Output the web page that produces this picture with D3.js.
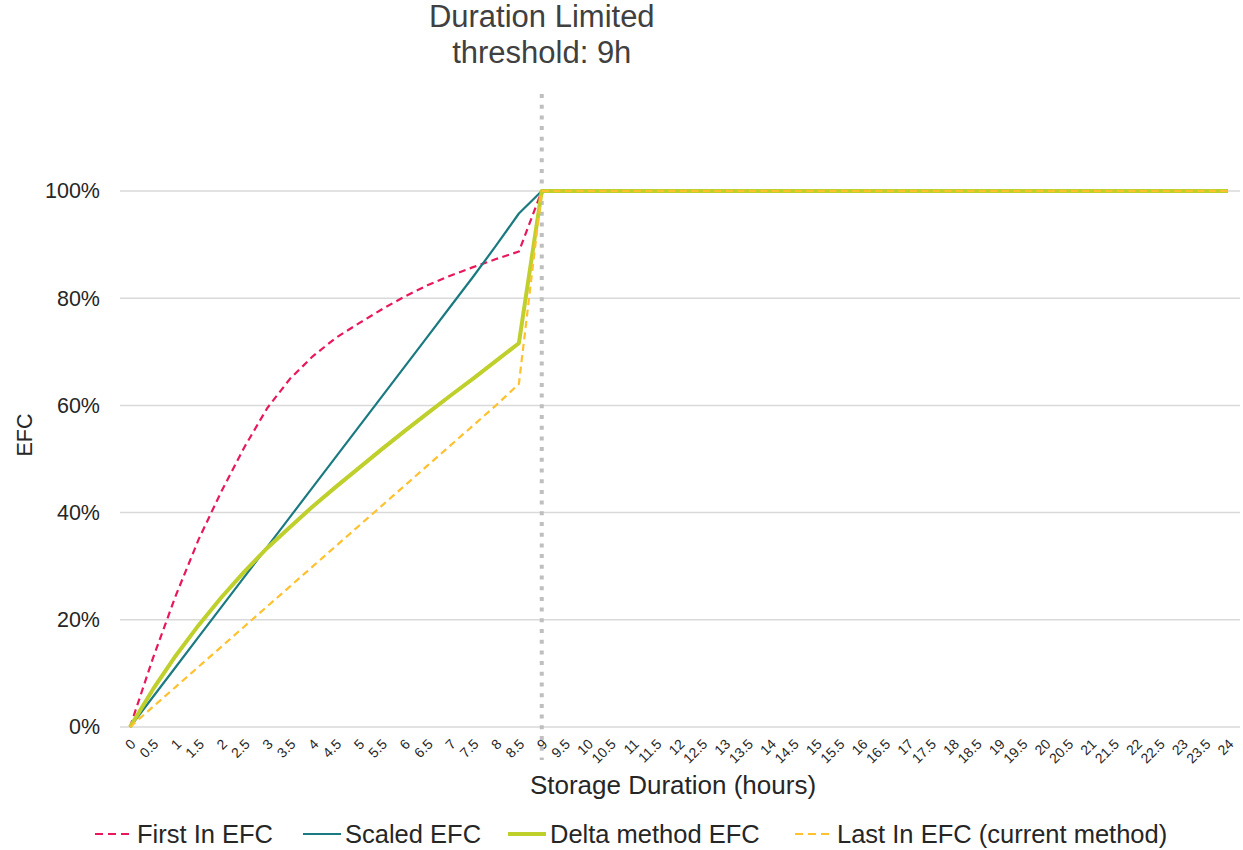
<!DOCTYPE html>
<meta charset="utf-8">
<head>
    <title>EFC vs Storage Duration</title>
    <meta charset="utf-8">
    <script type="text/javascript" src="https://d3js.org/d3.v7.min.js"></script>
    <style>
        body { margin: 0; background: #fff; }
        text { font-family: "Liberation Sans", Arial, sans-serif; }
    </style>
</head>
<body>
<script>

    // data (EFC in %)
    var durations = [0,0.5,1,1.5,2,2.5,3,3.5,4,4.5,5,5.5,6,6.5,7,7.5,8,8.5,9,9.5,10,10.5,11,11.5,12,12.5,
                     13,13.5,14,14.5,15,15.5,16,16.5,17,17.5,18,18.5,19,19.5,20,20.5,21,21.5,22,22.5,23,23.5,24];

    var firstIn = [0,12.8,24.5,35,44,52.2,59.5,65,69.2,72.6,75.3,77.9,80.3,82.4,84.2,85.8,87.3,88.7,
                   100,100,100,100,100,100,100,100,100,100,100,100,100,100,100,100,100,100,100,100,100,100,100,100,100,100,100,100,100,100,100];
    var scaled = [0,5.6,11.2,16.8,22.4,28,33.6,39.2,44.8,50.4,56,61.6,67.2,72.8,78.4,84,89.8,95.8,
                  100,100,100,100,100,100,100,100,100,100,100,100,100,100,100,100,100,100,100,100,100,100,100,100,100,100,100,100,100,100,100];
    var delta = [0,7,13.3,19,24.2,29,33.4,37.3,41.2,44.8,48.3,51.8,55.2,58.5,61.8,65,68.3,71.6,
                 100,100,100,100,100,100,100,100,100,100,100,100,100,100,100,100,100,100,100,100,100,100,100,100,100,100,100,100,100,100,100];
    var lastIn = [0,3.75,7.5,11.25,15,18.75,22.5,26.25,30,33.75,37.5,41.25,45,48.75,52.5,56.25,60,64,
                  100,100,100,100,100,100,100,100,100,100,100,100,100,100,100,100,100,100,100,100,100,100,100,100,100,100,100,100,100,100,100];

    var seriesNames = ["First In EFC", "Scaled EFC", "Delta method EFC", "Last In EFC (current method)"];
    var yTicks = [0, 20, 40, 60, 80, 100];
    var threshold = 9;

    var series = [
        {name: seriesNames[0], values: firstIn, color: "#E8185A", width: 2.2, dash: "7,4.5"},
        {name: seriesNames[1], values: scaled,  color: "#1A7A80", width: 2.2, dash: null},
        {name: seriesNames[2], values: delta,   color: "#BFD02C", width: 4,   dash: null},
        {name: seriesNames[3], values: lastIn,  color: "#FFC12E", width: 2.2, dash: "7,4.5"}
    ];

    var width = 1243, height = 850;

    var svg = d3.select('body').append('svg')
        .attr('width', width)
        .attr('height', height);

    var x = d3.scalePoint()
        .domain(durations)
        .range([130, 1228]);

    var y = d3.scaleLinear()
        .domain([0, 100])
        .range([727, 191]);

    // gridlines
    svg.append('g')
        .selectAll('line')
        .data(yTicks)
        .enter()
        .append('line')
        .attr('x1', 120)
        .attr('x2', 1240)
        .attr('y1', function(d){ return y(d); })
        .attr('y2', function(d){ return y(d); })
        .attr('stroke', '#d9d9d9')
        .attr('stroke-width', 1.5);

    // y axis labels
    var yAxis = svg.append('g')
        .attr('transform', 'translate(108,0)')
        .call(d3.axisLeft(y).tickValues(yTicks).tickSize(0).tickPadding(8)
              .tickFormat(function(d){ return d + '%'; }));
    yAxis.select('.domain').remove();
    yAxis.selectAll('text')
        .attr('font-size', 21.5)
        .attr('font-family', '"Liberation Sans", Arial, sans-serif')
        .attr('fill', '#262626');

    // x axis labels, rotated
    var xAxis = svg.append('g')
        .attr('transform', 'translate(0,727)')
        .call(d3.axisBottom(x).tickSize(0));
    xAxis.select('.domain').remove();
    xAxis.selectAll('text')
        .attr('font-size', 14)
        .attr('font-family', '"Liberation Sans", Arial, sans-serif')
        .attr('fill', '#262626')
        .attr('text-anchor', 'end')
        .attr('dy', null)
        .attr('y', 0)
        .attr('transform', 'translate(6,18) rotate(-45)');

    // threshold dotted line
    svg.append('line')
        .attr('x1', x(threshold))
        .attr('x2', x(threshold))
        .attr('y1', 94)
        .attr('y2', 760)
        .attr('stroke', '#bfbfbf')
        .attr('stroke-width', 4)
        .attr('stroke-dasharray', '4,6.7');

    // lines
    var line = d3.line()
        .x(function(d, i){ return x(durations[i]); })
        .y(function(d){ return y(d); });

    svg.append('g')
        .selectAll('path')
        .data(series)
        .enter()
        .append('path')
        .attr('fill', 'none')
        .attr('stroke', function(d){ return d.color; })
        .attr('stroke-width', function(d){ return d.width; })
        .attr('stroke-dasharray', function(d){ return d.dash; })
        .attr('stroke-linejoin', 'round')
        .attr('d', function(d){ return line(d.values); });

    // titles
    svg.append('text')
        .attr('x', x(threshold))
        .attr('y', 27)
        .attr('text-anchor', 'middle')
        .attr('font-size', 31)
        .attr('fill', '#404040')
        .text('Duration Limited');
    svg.append('text')
        .attr('x', x(threshold))
        .attr('y', 63)
        .attr('text-anchor', 'middle')
        .attr('font-size', 31)
        .attr('fill', '#404040')
        .text('threshold: 9h');

    svg.append('text')
        .attr('x', 673)
        .attr('y', 794)
        .attr('text-anchor', 'middle')
        .attr('font-size', 26)
        .attr('fill', '#262626')
        .text('Storage Duration (hours)');

    svg.append('text')
        .attr('transform', 'translate(32,435) rotate(-90)')
        .attr('text-anchor', 'middle')
        .attr('font-size', 21.5)
        .attr('fill', '#262626')
        .text('EFC');

    // legend
    var legendX = [95, 303, 508, 795];
    var legend = svg.append('g');
    var items = legend.selectAll('g')
        .data(series)
        .enter()
        .append('g')
        .attr('transform', function(d, i){ return 'translate(' + legendX[i] + ',834)'; });
    items.append('line')
        .attr('x1', 0)
        .attr('x2', 38)
        .attr('stroke', function(d){ return d.color; })
        .attr('stroke-width', function(d){ return d.width; })
        .attr('stroke-dasharray', function(d){ return d.dash ? '8,5' : null; });
    items.append('text')
        .attr('x', 42)
        .attr('dy', '0.35em')
        .attr('font-size', 25.5)
        .attr('fill', '#262626')
        .text(function(d){ return d.name; });

</script>
</body>
</html>
